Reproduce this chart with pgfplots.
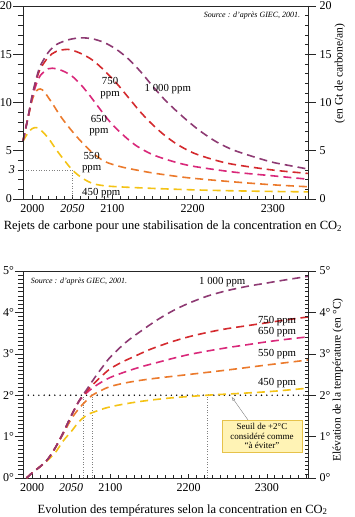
\documentclass[border=0pt]{standalone}
\usepackage{fontspec}
\setmainfont{Liberation Serif}
\usepackage{pgfplots}
\pgfplotsset{compat=1.18}
\usetikzlibrary{arrows.meta}
\definecolor{cA}{HTML}{8E3A73}
\definecolor{cB}{HTML}{D42A2E}
\definecolor{cC}{HTML}{D9287A}
\definecolor{cD}{HTML}{EB7A2C}
\definecolor{cE}{HTML}{F4C316}
\definecolor{boxfill}{HTML}{FFF3B5}
\definecolor{boxdraw}{HTML}{E6C24A}
\tikzset{lab/.style={font=\fontsize{10.8}{11.5}\selectfont, align=center, inner sep=0pt}}
\pgfplotsset{
 base/.style={scale only axis, width=285pt, anchor=south west, clip=false,
   axis line style={black!85, line width=0.6pt}, tick style={black!85, line width=0.5pt},
   tick label style={font=\fontsize{12}{14}\selectfont}},
 leftax/.style={hide x axis, ytick pos=left, yticklabel pos=left, tick align=outside,
   major tick length=10pt, minor tick length=5pt, yticklabel style={inner xsep=1pt}},
 rightax/.style={hide x axis, ytick pos=right, yticklabel pos=right, tick align=inside,
   major tick length=-8pt, minor tick length=3pt, yticklabel style={xshift=8pt}},
 crv/.style={line width=1.6pt, dash pattern=on 8pt off 5pt, smooth},
}
\begin{document}
\begin{tikzpicture}
\useasboundingbox (0,0) rectangle (354pt,517pt);
% ---------------- top chart ----------------
\begin{axis}[base, at={(23pt,318pt)}, height=193pt,
  xmin=1988.4, xmax=2343.8, ymin=0, ymax=20, ytick=\empty,
  xtick={2000,2050,2100,2200,2300}, xticklabels={2000,\textit{2050},2100,2200,2300},
  minor xtick={2010,2020,...,2340}, xtick pos=bottom, tick align=inside,
  major tick length=4pt, minor tick length=3pt, xticklabel style={yshift=-2pt},
  xlabel={Rejets de carbone pour une stabilisation de la concentration en CO\textsubscript{2}},
  xlabel style={at={(axis description cs:0.526,-0.145)}, anchor=center, font=\fontsize{12.5}{14}\selectfont}]
\addplot[gray, dotted, line width=0.6pt] coordinates {(1988.4,3) (2050,3) (2050,0)};
\addplot[crv, cE] coordinates {(1988.4,6.0) (1995,6.9) (2000,7.3) (2005,7.4) (2010,7.2) (2020,6.3) (2030,5.1) (2040,4.0) (2050,3.0) (2060,2.3) (2070,1.8) (2080,1.5) (2100,1.3) (2150,1.1) (2200,0.95) (2250,0.85) (2300,0.78) (2343.8,0.74)};
\addplot[crv, cD] coordinates {(1988.4,6.0) (1995,8.5) (2000,10.3) (2005,11.2) (2010,11.4) (2015,11.1) (2025,9.9) (2035,8.6) (2045,7.5) (2055,6.5) (2065,5.6) (2075,4.8) (2090,3.9) (2110,3.35) (2130,3.0) (2150,2.7) (2175,2.4) (2200,2.15) (2250,1.78) (2300,1.47) (2343.8,1.27)};
\addplot[crv, cC] coordinates {(1988.4,6.0) (1995,8.6) (2000,10.5) (2005,11.9) (2010,12.8) (2020,13.5) (2030,13.5) (2040,13.2) (2050,12.7) (2060,11.9) (2070,10.9) (2080,9.8) (2090,8.7) (2100,7.7) (2115,6.5) (2130,5.5) (2150,4.6) (2175,3.9) (2200,3.4) (2250,2.8) (2300,2.4) (2343.8,2.05)};
\addplot[crv, cB] coordinates {(1988.4,6.0) (1995,8.6) (2000,10.7) (2005,12.3) (2010,13.5) (2020,14.7) (2030,15.3) (2045,15.5) (2060,15.1) (2075,14.4) (2090,13.3) (2105,12.0) (2120,10.5) (2135,9.0) (2150,7.7) (2165,6.6) (2180,5.7) (2200,4.8) (2225,4.1) (2250,3.6) (2300,3.0) (2343.8,2.65)};
\addplot[crv, cA] coordinates {(1988.4,6.0) (1995,8.6) (2000,10.8) (2005,12.5) (2010,13.8) (2020,15.2) (2030,16.0) (2045,16.5) (2060,16.7) (2075,16.6) (2090,16.2) (2105,15.5) (2120,14.5) (2135,13.2) (2150,11.7) (2165,10.3) (2180,9.1) (2195,8.0) (2210,7.0) (2230,5.9) (2250,5.1) (2275,4.4) (2300,3.8) (2325,3.4) (2343.8,3.1)};
\node[lab] at (axis cs:2169,11.4) {1 000 ppm};
\node[lab] at (axis cs:2097,11.5) {750\\ppm};
\node[lab] at (axis cs:2083,7.6) {650\\ppm};
\node[lab] at (axis cs:2074,3.8) {550\\ppm};
\node[lab] at (axis cs:2086,0.62) {450 ppm};
\node[anchor=north east, font=\fontsize{8}{9}\selectfont\itshape] at (axis description cs:0.985,0.985) {Source : d’après GIEC, 2001.};
\end{axis}
\begin{axis}[base, leftax, at={(23pt,318pt)}, height=193pt,
  xmin=1988.4, xmax=2343.8, ymin=0, ymax=20,
  ytick={0,5,10,15,20}, yticklabels={0,5,10,15,20}, minor ytick={0,1,...,20},
  extra y ticks={3}, extra y tick labels={\textit{3}},
  extra y tick style={major tick length=0pt, yticklabel style={xshift=-7pt}}]
\end{axis}
\begin{axis}[base, rightax, at={(23pt,318pt)}, height=193pt,
  xmin=1988.4, xmax=2343.8, ymin=0, ymax=20,
  ytick={0,5,10,15,20}, yticklabels={0,5,10,15,20}, minor ytick={0,1,...,20}]
\node[rotate=90, font=\fontsize{11.5}{13}\selectfont] at (axis description cs:1.112,0.65) {(en Gt de carbone/an)};
\end{axis}
% ---------------- bottom chart ----------------
\begin{axis}[base, at={(23pt,39pt)}, height=207pt,
  xmin=1988.5, xmax=2352.5, ymin=0, ymax=5, ytick=\empty,
  xtick={2000,2050,2100,2200,2300}, xticklabels={2000,\textit{2050},2100,2200,2300},
  minor xtick={2010,2020,...,2350}, xtick pos=bottom, tick align=inside,
  major tick length=4pt, minor tick length=3pt, xticklabel style={yshift=-2pt},
  xlabel={Evolution des températures selon la concentration en CO\textsubscript{2}},
  xlabel style={at={(axis description cs:0.56,-0.155)}, anchor=center, font=\fontsize{12.5}{14}\selectfont}]
\addplot[gray, dotted, line width=0.6pt] coordinates {(2066,0) (2066,2)};
\addplot[gray, dotted, line width=0.6pt] coordinates {(2077,0) (2077,2)};
\addplot[gray, dotted, line width=0.6pt] coordinates {(2224,0) (2224,2)};
\addplot[black, line width=1.6pt, line cap=round, dash pattern=on 0pt off 5.3pt] coordinates {(1988.5,2) (2352.5,2)};
\addplot[crv, cE] coordinates {(1993,0) (2000,0.12) (2010,0.27) (2020,0.43) (2030,0.62) (2040,0.9) (2050,1.12) (2060,1.36) (2070,1.52) (2080,1.6) (2100,1.72) (2135,1.84) (2175,1.93) (2224,2.0) (2262,2.04) (2305,2.09) (2352.5,2.17)};
\addplot[crv, cD] coordinates {(1993,0) (2000,0.12) (2010,0.27) (2020,0.45) (2030,0.74) (2040,1.07) (2050,1.42) (2060,1.68) (2070,1.88) (2077,2.0) (2090,2.13) (2100,2.21) (2120,2.3) (2150,2.39) (2200,2.5) (2250,2.61) (2300,2.73) (2352.5,2.85)};
\addplot[crv, cC] coordinates {(1993,0) (2000,0.12) (2010,0.27) (2020,0.45) (2030,0.74) (2040,1.1) (2050,1.5) (2060,1.85) (2070,2.06) (2080,2.21) (2090,2.33) (2100,2.43) (2120,2.57) (2140,2.69) (2160,2.79) (2180,2.89) (2200,2.98) (2225,3.07) (2250,3.15) (2275,3.22) (2300,3.29) (2325,3.35) (2352.5,3.41)};
\addplot[crv, cB] coordinates {(1993,0) (2000,0.12) (2010,0.27) (2020,0.45) (2030,0.74) (2040,1.1) (2050,1.5) (2060,1.86) (2070,2.1) (2080,2.3) (2090,2.48) (2100,2.64) (2115,2.8) (2130,2.93) (2150,3.1) (2175,3.27) (2200,3.41) (2225,3.52) (2250,3.61) (2275,3.68) (2300,3.75) (2325,3.82) (2352.5,3.89)};
\addplot[crv, cA] coordinates {(1993,0) (2000,0.12) (2010,0.27) (2020,0.45) (2030,0.74) (2040,1.1) (2050,1.5) (2060,1.86) (2070,2.14) (2080,2.42) (2090,2.68) (2100,2.92) (2120,3.28) (2140,3.56) (2160,3.82) (2180,4.04) (2200,4.22) (2225,4.4) (2250,4.53) (2275,4.63) (2300,4.71) (2325,4.79) (2352.5,4.87)};
\node[lab] at (axis cs:2243,4.73) {1 000 ppm};
\node[lab] at (axis cs:2313,3.8) {750 ppm};
\node[lab] at (axis cs:2313,3.53) {650 ppm};
\node[lab] at (axis cs:2313,3.0) {550 ppm};
\node[lab] at (axis cs:2313,2.29) {450 ppm};
\node[anchor=north west, font=\fontsize{8}{9}\selectfont\itshape] at (axis description cs:0.015,0.985) {Source : d’après GIEC, 2001.};
\node[draw=boxdraw, fill=boxfill, line width=0.6pt, align=center, inner sep=2pt,
  minimum width=80pt, minimum height=32pt, font=\fontsize{9}{9.5}\selectfont] (sb) at (axis cs:2293.7,1.01)
  {Seuil de +2°C\\considéré comme\\“à éviter”};
\draw[gray, line width=0.4pt, -{Latex[open, length=4pt, width=3pt]}] ([xshift=-14pt]sb.north) -- (axis cs:2255,1.96);
\end{axis}
\begin{axis}[base, leftax, at={(23pt,39pt)}, height=207pt,
  xmin=1988.5, xmax=2352.5, ymin=0, ymax=5,
  major tick length=8pt, minor tick length=5pt,
  ytick={0,1,...,5}, yticklabels={0°,1°,2°,3°,4°,5°}, minor ytick={0,0.1,...,5}]
\end{axis}
\begin{axis}[base, rightax, at={(23pt,39pt)}, height=207pt,
  xmin=1988.5, xmax=2352.5, ymin=0, ymax=5,
  ytick={0,1,...,5}, yticklabels={0°,1°,2°,3°,4°,5°}, minor ytick={0,0.1,...,5}]
\node[rotate=90, font=\fontsize{11.5}{13}\selectfont] at (axis description cs:1.105,0.473) {Elévation de la température (en °C)};
\end{axis}
\end{tikzpicture}
\end{document}
